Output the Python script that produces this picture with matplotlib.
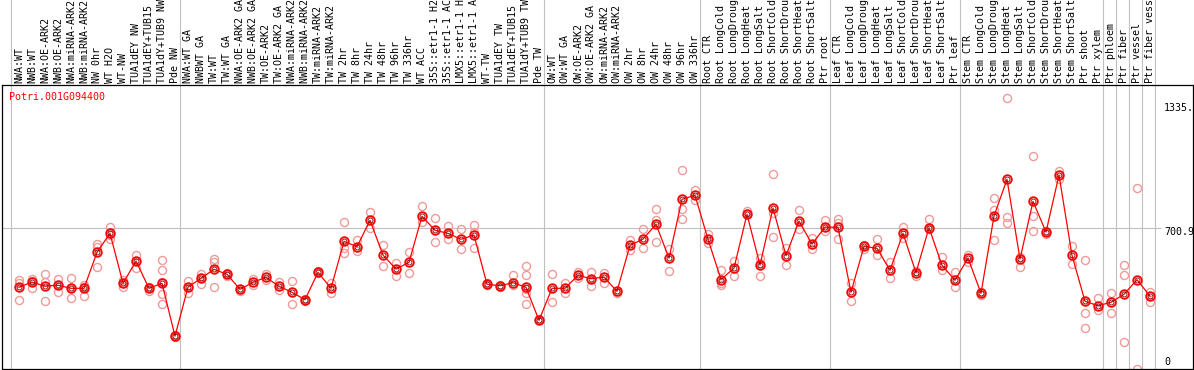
import matplotlib
matplotlib.use("Agg")
import matplotlib.pyplot as plt

# ---- sample labels (88 samples) ----
labels = [
    "NWA:WT", "NWB:WT", "NWA:OE-ARK2", "NWB:OE-ARK2", "NWA:miRNA-ARK2",
    "NWB:miRNA-ARK2", "NW 0hr", "WT H2O", "WT-NW", "TUA1dEY NW",
    "TUA1dEY+TUB15 NW", "TUA1dY+TUB9 NW", "Pde NW",
    "NWA:WT GA", "NWBWT GA", "TW:WT", "TW:WT GA", "NWA:OE-ARK2 GA",
    "NWB:OE-ARK2 GA", "TW:OE-ARK2", "TW:OE-ARK2 GA", "NWA:miRNA-ARK2 GA",
    "NWB:miRNA-ARK2 GA", "TW:miRNA-ARK2", "TW:miRNA-ARK2 GA", "TW 2hr",
    "TW 8hr", "TW 24hr", "TW 48hr", "TW 96hr", "TW 336hr", "WT ACC",
    "35S::etr1-1 H2O", "35S::etr1-1 ACC", "LMX5::etr1-1 H2O",
    "LMX5::etr1-1 ACC", "WT-TW", "TUA1dEY TW", "TUA1dEY+TUB15 TW",
    "TUA1dY+TUB9 TW", "Pde TW",
    "OW:WT", "OW:WT GA", "OW:OE-ARK2", "OW:OE-ARK2 GA", "OW:miRNA-ARK2",
    "OW:miRNA-ARK2 GA", "OW 2hr", "OW 8hr", "OW 24hr", "OW 48hr", "OW 96hr",
    "OW 336hr",
    "Root CTR", "Root LongCold", "Root LongDrought", "Root LongHeat",
    "Root LongSalt", "Root ShortCold", "Root ShortDrought", "Root ShortHeat",
    "Root ShortSalt", "Ptr root",
    "Leaf CTR", "Leaf LongCold", "Leaf LongDrought", "Leaf LongHeat",
    "Leaf LongSalt", "Leaf ShortCold", "Leaf ShortDrought", "Leaf ShortHeat",
    "Leaf ShortSalt", "Ptr leaf",
    "Stem CTR", "Stem LongCold", "Stem LongDrought", "Stem LongHeat",
    "Stem LongSalt", "Stem ShortCold", "Stem ShortDrought", "Stem ShortHeat",
    "Stem ShortSalt", "Ptr shoot", "Ptr xylem",
    "Ptr phloem", "Ptr fiber", "Ptr vessel", "Ptr fiber vessel",
]

# ---- mean expression per sample ----
means = [
    407, 432, 412, 416, 401, 401, 581, 676, 426, 537, 401, 426, 162,
    407, 451, 496, 471, 396, 431, 456, 411, 381, 344, 481, 401, 636, 609,
    741, 567, 497, 531, 761, 691, 676, 646, 667, 421, 414, 429, 406, 241,
    401, 401, 466, 449, 457, 386, 616, 647, 721, 552, 846, 866,
    646, 445, 502, 771, 517, 802, 564, 737, 622, 707,
    706, 381, 611, 601, 491, 676, 479, 704, 516, 441,
    552, 376, 762, 946, 547, 836, 682, 967, 566, 336, 314,
    331, 371, 444, 362,
]

# ---- individual replicates per sample ----
reps = [
    [442, 426, 341], [446, 401, 436], [472, 431, 337], [447, 384, 420],
    [452, 404, 351], [419, 364, 410], [621, 609, 509], [707, 646, 670],
    [444, 406, 430], [567, 501, 540], [405, 387, 410],
    [542, 491, 434, 372, 321], [162, 168, 158],
    [437, 376, 410], [474, 424, 455], [549, 534, 409], [478, 462, 474],
    [396, 390], [446, 416], [472, 441], [432, 392], [437, 322], [350, 340],
    [486, 476], [429, 376], [731, 604, 576], [642, 589], [781, 701],
    [616, 511], [526, 464], [581, 476], [811, 734], [751, 631], [711, 646],
    [696, 597], [717, 602, 685], [427, 416], [420, 410], [466, 420],
    [512, 466, 379, 322, 400], [241, 246],
    [471, 331], [426, 379], [484, 452], [481, 414], [480, 426], [380, 390],
    [642, 592], [696, 601], [796, 742, 631], [597, 487], [991, 796, 746],
    [891, 842],
    [672, 626], [492, 416, 430], [537, 462], [787, 775], [554, 462, 530],
    [972, 776, 657], [601, 517], [792, 697], [651, 596], [742, 689],
    [749, 730, 646], [426, 336], [620, 600], [646, 567], [531, 451],
    [706, 651], [490, 462], [747, 700], [557, 492], [481, 409],
    [567, 534], [385, 370], [851, 792, 642], [1351, 756, 729], [560, 509],
    [1061, 762, 687], [690, 675], [987, 946], [612, 521], [542, 276, 201],
    [354, 292], [376, 276], [517, 466, 132], [901, 0], [381, 334],
]

gene = "Potri.001G094400"
ytick_vals = ["1335.", "700.9", "0"]
separators = [-0.65, 12.35, 40.35, 52.35, 62.35, 72.35,
              83.35, 84.35, 85.35, 86.35, 87.35]
mid_value = 700.9

# pixel helpers (sample i sits at 19 + 13*i px)
W, H = 1194, 370
def px2idx(p):
    return (p - 19) / 13.0

mono = "DejaVu Sans Mono"
grey = "#c0c0c0"

fig = plt.figure(figsize=(W / 100, H / 100), dpi=100)

# ---- plot area ----
ax = fig.add_axes([1.5 / W, 1 / H, 1191 / W, 284 / H])
ax.set_xlim(px2idx(1.5), px2idx(1192.5))
ax.set_ylim(-2.5, 1417.5)
ax.set_xticks([])
ax.set_yticks([])
for s in ax.spines.values():
    s.set_linewidth(0.9)
    s.set_color("black")

for sx in separators:
    ax.axvline(sx, color=grey, lw=0.8, zorder=0)
ax.hlines(mid_value, px2idx(1.5), px2idx(1161), color=grey, lw=0.8, zorder=0)

x = list(range(len(means)))
for i, r in enumerate(reps):
    ax.plot([i] * len(r), r, "o", ms=5.8, mfc="none", mec="#f09a9a",
            mew=1.0, zorder=2, clip_on=False)
ax.plot(x, means, "-", color="red", lw=0.9, zorder=3)
ax.plot(x, means, "o", ms=6.2, mfc="none", mec="red", mew=1.3, zorder=4)
ax.plot(x, means, "o", ms=3.6, mfc="none", mec="#700000", mew=0.6, zorder=5)

ax.text((9 - 1.5) / 1191, (369 - 97) / 284, gene, transform=ax.transAxes,
        color="red", family=mono, fontsize=7.2, va="center", ha="left")

ytick_pos = [1302, 682, 32]
for lab, yv in zip(ytick_vals, ytick_pos):
    ax.text(px2idx(1164), yv, lab, family=mono, fontsize=7.2,
            va="center", ha="left", clip_on=True)

# ---- label strip above ----
ax2 = fig.add_axes([0, 285 / H, 1, 85 / H])
ax2.set_xlim(px2idx(0), px2idx(W))
ax2.set_ylim(0, 85)
ax2.axis("off")
for sx in separators:
    ax2.axvline(sx, color=grey, lw=0.8, zorder=0)
for i, lab in enumerate(labels):
    ax2.text(i, 2, lab, rotation=90, family=mono, fontsize=7.2,
             ha="center", va="bottom")

fig.savefig("out.png", dpi=100)
